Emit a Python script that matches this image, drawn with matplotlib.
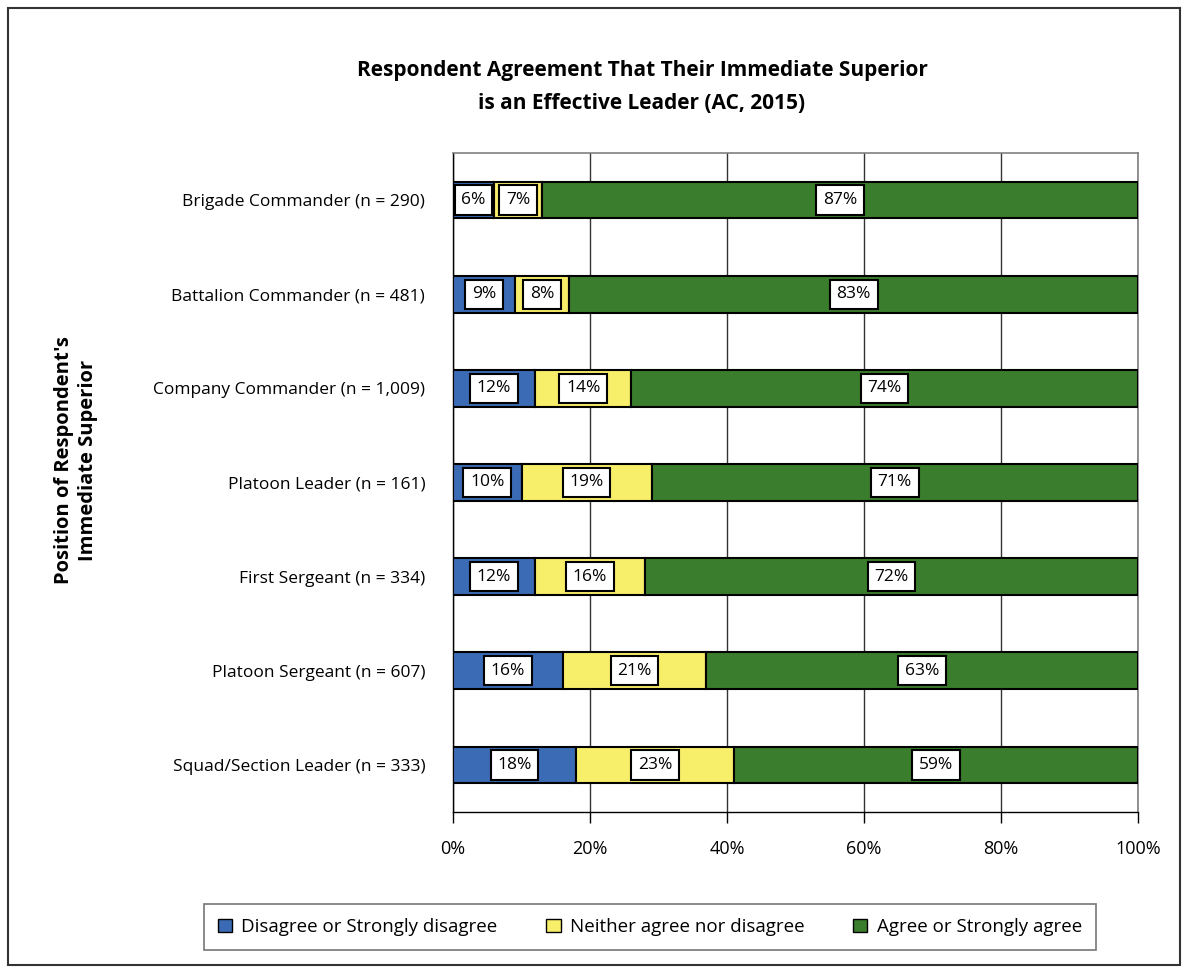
import matplotlib
matplotlib.use("Agg")
import matplotlib.pyplot as plt
from matplotlib.patches import Rectangle, Patch
import numpy as np

plt.rcParams['font.family'] = ['Open Sans', 'DejaVu Sans']

categories = [
    "Brigade Commander (n = 290)",
    "Battalion Commander (n = 481)",
    "Company Commander (n = 1,009)",
    "Platoon Leader (n = 161)",
    "First Sergeant (n = 334)",
    "Platoon Sergeant (n = 607)",
    "Squad/Section Leader (n = 333)",
]
disagree = [6, 9, 12, 10, 12, 16, 18]
neither = [7, 8, 14, 19, 16, 21, 23]
agree = [87, 83, 74, 71, 72, 63, 59]
series_names = ["Disagree or Strongly disagree", "Neither agree nor disagree", "Agree or Strongly agree"]
colors = ["#3B6BB4", "#F7EE6A", "#3A7D2C"]
xticks = [0, 20, 40, 60, 80, 100]

fig = plt.figure(figsize=(11.88, 9.72), dpi=100)
W, H = 1188, 972
ax = fig.add_axes([453 / W, 1 - 812 / H, (1138 - 453) / W, (812 - 153) / H])

y = np.arange(len(categories))[::-1]
left = np.zeros(len(categories))
for vals, col in zip([disagree, neither, agree], colors):
    vals = np.array(vals, dtype=float)
    ax.barh(y, vals, left=left, height=0.39, color=col, edgecolor="black", linewidth=1.5, zorder=3)
    for yi, l, v in zip(y, left, vals):
        ax.text(l + v / 2, yi, f"{int(v)}%", ha="center", va="center", fontsize=12.5, zorder=4,
                bbox=dict(boxstyle="square,pad=0.38", facecolor="white", edgecolor="black", linewidth=1.5))
    left = left + vals

ax.set_xlim(0, 100)
ax.set_ylim(-0.5, len(categories) - 0.5)
ax.set_xticks(xticks)
ax.set_xticklabels([f"{t}%" for t in xticks], fontsize=13)
ax.set_yticks(y)
ax.set_yticklabels(categories, fontsize=12.5)
ax.tick_params(axis="y", length=0, pad=20)
ax.tick_params(axis="x", length=8, direction="out", pad=12, width=1)
ax.grid(axis="x", color="#333333", linewidth=1, zorder=0)
ax.set_axisbelow(True)
for s in ["top", "right"]:
    ax.spines[s].set_color("#808080")
    ax.spines[s].set_linewidth(1.2)
for s in ["left", "bottom"]:
    ax.spines[s].set_color("black")
    ax.spines[s].set_linewidth(1)

fig.text(642 / W, 1 - 87 / H, "Respondent Agreement That Their Immediate Superior\nis an Effective Leader (AC, 2015)",
         ha="center", va="center", fontsize=15, fontweight="bold", linespacing=1.75)
fig.text(76 / W, 1 - 460 / H, "Position of Respondent's\nImmediate Superior", ha="center", va="center",
         rotation=90, fontsize=14.5, fontweight="bold", linespacing=1.3)

handles = [Patch(facecolor=c, edgecolor="black", linewidth=1) for c in colors]
leg = fig.legend(handles, series_names, loc="center", bbox_to_anchor=(650 / W, 1 - 927 / H),
                 ncol=3, fontsize=13.5, frameon=True, fancybox=False, edgecolor="#555555",
                 handlelength=0.75, handleheight=0.75, columnspacing=2.6, handletextpad=0.5,
                 borderpad=0.75, borderaxespad=0)
leg.get_frame().set_linewidth(1.2)

fig.add_artist(Rectangle((8 / W, 1 - 965 / H), (1180 - 8) / W, (965 - 8) / H, transform=fig.transFigure,
                         fill=False, edgecolor="#333333", linewidth=1.5))

fig.savefig("out.png", dpi=100)
